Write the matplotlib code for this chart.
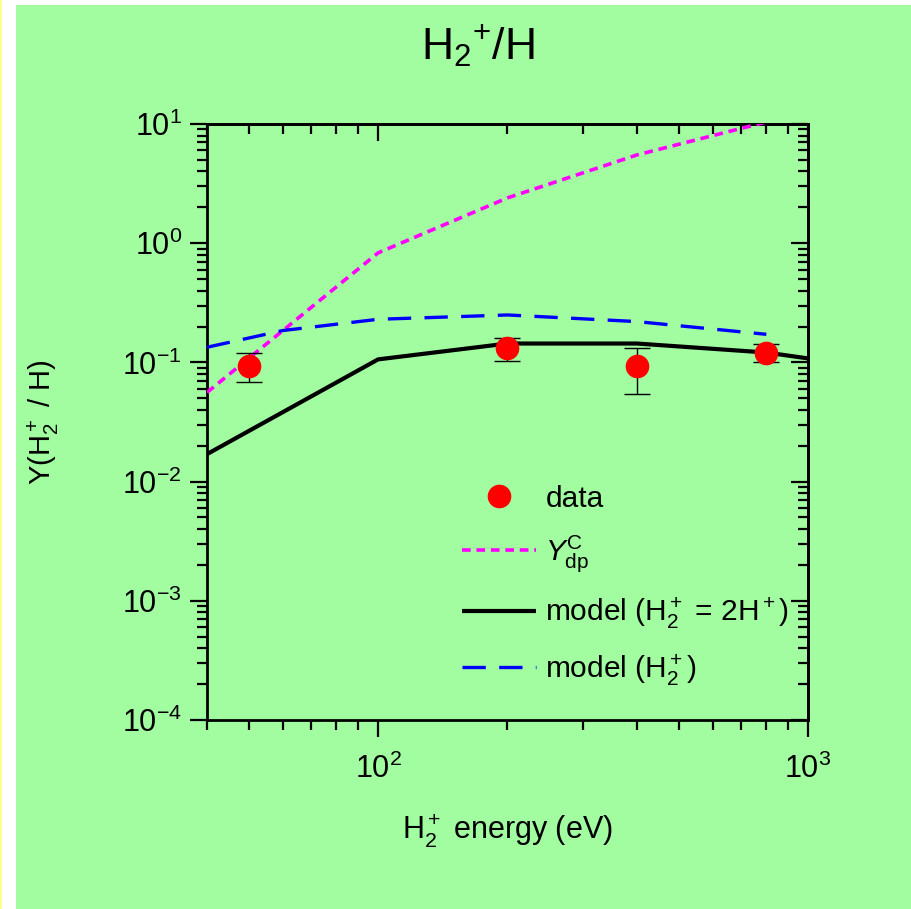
import matplotlib
matplotlib.use("Agg")
import matplotlib.pyplot as plt
from matplotlib.patches import Rectangle
from matplotlib.ticker import NullFormatter

plt.rcParams['font.family'] = ['Liberation Sans', 'DejaVu Sans']
plt.rcParams['mathtext.fontset'] = 'custom'
plt.rcParams['mathtext.rm'] = 'Liberation Sans'
plt.rcParams['mathtext.it'] = 'Liberation Sans:italic'
plt.rcParams['mathtext.bf'] = 'Liberation Sans:bold'
plt.rcParams['axes.unicode_minus'] = False

GREEN = '#a2fca0'

# measured yield H2+/H
data_E = [50, 200, 400, 800]
data_Y = [0.094, 0.131, 0.093, 0.121]
err_lo = [0.069, 0.102, 0.054, 0.100]
err_hi = [0.119, 0.159, 0.131, 0.142]

# Y_dp^C curve
ydp_E = [40, 100, 200, 400, 800]
ydp_Y = [0.056, 0.83, 2.4, 5.5, 10.4]

# model (H2+ = 2H+)
m1_E = [40, 100, 200, 400, 800, 1000]
m1_Y = [0.017, 0.106, 0.144, 0.144, 0.121, 0.108]

# model (H2+)
m2_E = [40, 60, 100, 200, 400, 800]
m2_Y = [0.134, 0.185, 0.23, 0.25, 0.22, 0.172]

fig = plt.figure(figsize=(9.12, 9.09), dpi=100, facecolor='white')
fig.patches.append(Rectangle((16 / 912, 0), 1, 904 / 909, transform=fig.transFigure,
                             facecolor=GREEN, edgecolor='none', zorder=-10))
fig.patches.append(Rectangle((0, 0), 2 / 912, 1, transform=fig.transFigure,
                             facecolor='#ffff90', edgecolor='none', zorder=-10))

ax = fig.add_axes([207 / 912, 189 / 909, 601 / 912, 596 / 909])
ax.set_facecolor(GREEN)
ax.set_xscale('log')
ax.set_yscale('log')
ax.set_xlim(40, 1000)
ax.set_ylim(1e-4, 10)

ydp_line, = ax.plot(ydp_E, ydp_Y, color='#ff00ff', lw=2.6, dashes=(2.4, 1.6),
                    zorder=3)
m1_line, = ax.plot(m1_E, m1_Y, color='black', lw=3, solid_capstyle='butt',
                   zorder=3)
m2_line, = ax.plot(m2_E, m2_Y, color='#0000ff', lw=2.4, dashes=(7, 4),
                   zorder=3)

yerr = [[y - lo for y, lo in zip(data_Y, err_lo)],
        [hi - y for y, hi in zip(data_Y, err_hi)]]
eb = ax.errorbar(data_E, data_Y, yerr=yerr, fmt='o', color='red', ms=16, mec='red',
                 ecolor='black', elinewidth=1, capsize=9.5, capthick=1, zorder=4)

for s in ax.spines.values():
    s.set_linewidth(2)

ax.tick_params(which='major', direction='out', length=12, width=1.6,
               labelsize=22, pad=6)
ax.tick_params(which='minor', direction='out', length=7, width=1.6)
ax.tick_params(axis='x', which='major', pad=12)
ax.xaxis.set_minor_formatter(NullFormatter())
ax.yaxis.set_minor_formatter(NullFormatter())

top = ax.secondary_xaxis('top')
top.tick_params(which='major', direction='in', length=12, width=1.6, labeltop=False)
top.tick_params(which='minor', direction='in', length=7, width=1.6)
top.xaxis.set_minor_formatter(NullFormatter())
right = ax.secondary_yaxis('right')
right.tick_params(which='major', direction='in', length=12, width=1.6, labelright=False)
right.tick_params(which='minor', direction='in', length=7, width=1.6)
right.yaxis.set_minor_formatter(NullFormatter())
for sa in (top, right):
    for s in sa.spines.values():
        s.set_linewidth(2)

ax.set_xlabel(r'H$_2^+$ energy (eV)', fontsize=22, labelpad=20)
ax.set_ylabel(r'Y(H$_2^+$ / H)', fontsize=21, labelpad=44)
fig.text(478 / 912, 1 - 46 / 909, r'H$_{2}{}^{+}$/H', fontsize=32,
         ha='center', va='center')

ax.legend([eb[0], ydp_line, m1_line, m2_line],
          ['data', r'$\it{Y}^{\rm C}_{\rm dp}$', r'model (H$_2^+$ = 2H$^+$)',
           r'model (H$_2^+$)'],
          loc='upper left', bbox_to_anchor=(0.424, 0.395), frameon=False,
          fontsize=21.5, handlelength=2.5, handletextpad=0.3, labelspacing=0.7,
          borderaxespad=0, borderpad=0, numpoints=1)

fig.savefig('out.png', dpi=100, facecolor=fig.get_facecolor())
